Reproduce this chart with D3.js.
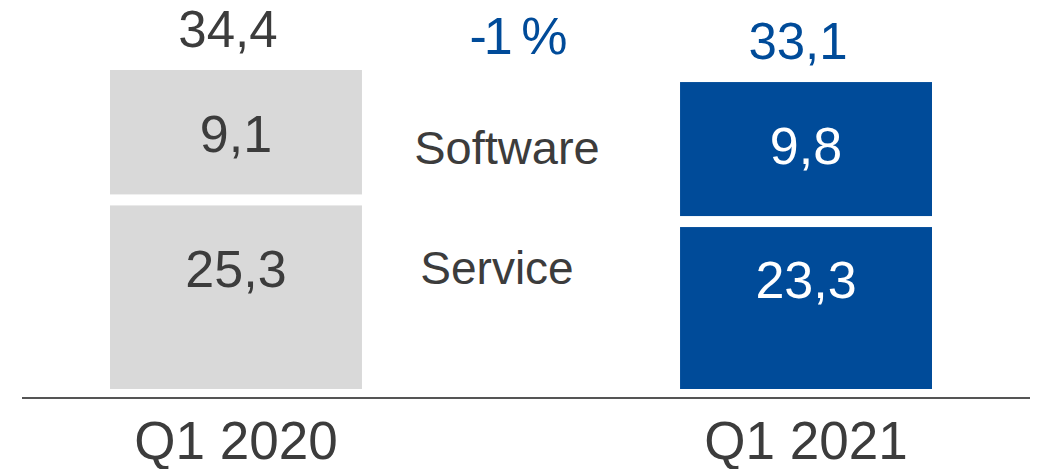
<!DOCTYPE html>
<html>
<head>
<meta charset="utf-8">
<script src="https://cdn.jsdelivr.net/npm/d3@7"></script>
<style>
  html, body { margin: 0; padding: 0; background: #fff; }
  svg { display: block; font-family: "Liberation Sans", Arial, sans-serif; }
</style>
</head>
<body>
<svg id="chart" width="1041" height="469"></svg>
<script>
// Revenue split, Q1 2020 vs Q1 2021 (Software on top, Service below).
const periods = ["Q1 2020", "Q1 2021"];
const software = [9.1, 9.8];
const service = [25.3, 23.3];
const totals = [34.4, 33.1];
const seriesNames = ["Software", "Service"];
const changeLabel = "-1 %";

const GREY = "#d9d9d9";
const BLUE = "#004b99";
const TEXT = "#3c3c3c";
const GAP = 11;

const svg = d3.select("#chart");

// Comma as decimal separator.
const fmt = d3.formatLocale({ decimal: ",", thousands: ".", grouping: [3], currency: ["", ""] }).format(".1f");

const x = d3.scaleBand()
  .domain(periods)
  .range([110, 932])
  .paddingInner(0.558)
  .paddingOuter(0);

// Whole bar height follows the total; the software block has its own scale,
// the service block takes the rest (the original is not drawn to scale inside).
const y = d3.scaleLinear().domain([0, d3.max(totals)]).range([389, 70]);
const hSoft = d3.scaleLinear().domain([0, d3.max(software)]).range([0, 134]);

const bars = periods.map((p, i) => {
  const top = y(totals[i]);
  const softBottom = top + hSoft(software[i]);
  return {
    period: p,
    total: totals[i],
    software: software[i],
    service: service[i],
    fill: i === 0 ? GREY : BLUE,
    ink: i === 0 ? TEXT : "#fff",
    totalInk: i === 0 ? TEXT : BLUE,
    top,
    softBottom,
    servTop: softBottom + GAP,
    base: y(0),
  };
});

const g = svg.append("g");

// Software blocks.
g.selectAll("rect.soft")
  .data(bars)
  .join("rect")
  .attr("class", "soft")
  .attr("x", (d) => x(d.period))
  .attr("y", (d) => d.top)
  .attr("width", x.bandwidth())
  .attr("height", (d) => d.softBottom - d.top)
  .attr("fill", (d) => d.fill);

// Service blocks.
g.selectAll("rect.serv")
  .data(bars)
  .join("rect")
  .attr("class", "serv")
  .attr("x", (d) => x(d.period))
  .attr("y", (d) => d.servTop)
  .attr("width", x.bandwidth())
  .attr("height", (d) => d.base - d.servTop)
  .attr("fill", (d) => d.fill);

const cx = (d) => x(d.period) + x.bandwidth() / 2;

// Values inside the blocks.
g.selectAll("text.softv")
  .data(bars)
  .join("text")
  .attr("class", "softv")
  .attr("x", cx)
  .attr("y", (d) => d.top + 82)
  .attr("text-anchor", "middle")
  .attr("font-size", 52)
  .attr("fill", (d) => d.ink)
  .text((d) => fmt(d.software));

g.selectAll("text.servv")
  .data(bars)
  .join("text")
  .attr("class", "servv")
  .attr("x", cx)
  .attr("y", (d) => (d.servTop + d.base) / 2 - 10)
  .attr("text-anchor", "middle")
  .attr("font-size", 52)
  .attr("fill", (d) => d.ink)
  .text((d) => fmt(d.service));

// Totals above the bars.
g.selectAll("text.total")
  .data(bars)
  .join("text")
  .attr("class", "total")
  .attr("x", (d) => cx(d) - 8)
  .attr("y", (d) => d.top - 23)
  .attr("text-anchor", "middle")
  .attr("font-size", 51)
  .attr("fill", (d) => d.totalInk)
  .text((d) => fmt(d.total));

// Change between the two periods.
const mid = (cx(bars[0]) + cx(bars[1])) / 2;
g.append("text")
  .attr("x", mid - 4)
  .attr("y", 54)
  .attr("text-anchor", "middle")
  .attr("font-size", 52)
  .attr("letter-spacing", -3)
  .attr("fill", BLUE)
  .text(changeLabel);

// Series names in the middle.
g.append("text")
  .attr("x", mid - 14)
  .attr("y", 164)
  .attr("text-anchor", "middle")
  .attr("font-size", 47)
  .attr("fill", TEXT)
  .text(seriesNames[0]);

g.append("text")
  .attr("x", mid - 24)
  .attr("y", 284)
  .attr("text-anchor", "middle")
  .attr("font-size", 46)
  .attr("fill", TEXT)
  .text(seriesNames[1]);

// Baseline with the period labels.
const axis = svg.append("g")
  .attr("transform", `translate(0,${y(0) + 9})`)
  .call(d3.axisBottom(x).tickSize(0).tickPadding(0));

axis.select(".domain").remove();
axis.append("line")
  .attr("x1", 22)
  .attr("x2", 1030)
  .attr("stroke", "#555")
  .attr("stroke-width", 2);

axis.selectAll(".tick text")
  .attr("y", 61)
  .attr("dy", null)
  .attr("font-size", 53)
  .attr("font-family", "\"Liberation Sans\", Arial, sans-serif")
  .attr("fill", TEXT);
</script>
</body>
</html>
